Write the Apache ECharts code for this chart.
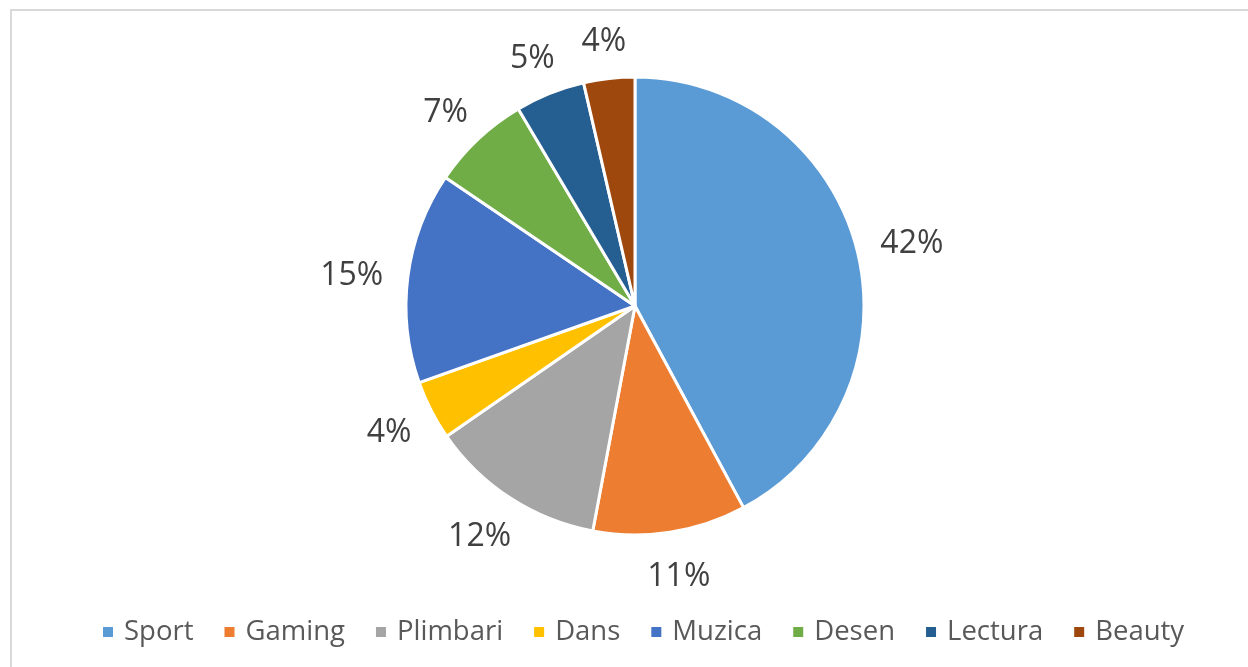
<!DOCTYPE html>
<html>
<head>
<meta charset="utf-8">
<script src="https://cdn.jsdelivr.net/npm/echarts@6/dist/echarts.min.js"></script>
<style>
    html, body { margin: 0; padding: 0; background: #fff; }
    #chart { width: 1248px; height: 667px; }
</style>
</head>
<body>
<div id="chart"></div>
<script>
    var categories = ['Sport', 'Gaming', 'Plimbari', 'Dans', 'Muzica', 'Desen', 'Lectura', 'Beauty'];
    var values = [42.1, 10.8, 12.4, 4.2, 14.9, 7.0, 4.9, 3.6];
    var colors = ['#5B9BD5', '#ED7D31', '#A5A5A5', '#FFC000', '#4472C4', '#70AD47', '#255E91', '#9E480E'];

    var CENTER = [635, 306];
    var RADIUS = 229;
    var LABEL_GAP = 25;

    var chart = echarts.init(document.getElementById('chart'));

    var data = categories.map(function (name, i) {
        return { name: name, value: values[i] };
    });

    // mid angle of each slice, clockwise from 12 o'clock
    var total = values.reduce(function (a, b) { return a + b; }, 0);
    var midAngles = [];
    var acc = 0;
    values.forEach(function (v) {
        midAngles.push((acc + v / 2) / total * Math.PI * 2);
        acc += v;
    });

    // place each label box just outside the rim, like office charts do
    var placeLabel = function (params) {
        var a = midAngles[params.dataIndex];
        var ux = Math.sin(a);
        var uy = -Math.cos(a);
        var w = params.labelRect.width;
        var h = params.labelRect.height;
        var d = RADIUS + LABEL_GAP;
        return {
            x: CENTER[0] + d * ux + w / 2 * ux,
            y: CENTER[1] + d * uy + h / 2 * uy + 4,
            align: 'center',
            verticalAlign: 'middle'
        };
    };

    chart.setOption({
        animation: false,
        color: colors,
        graphic: [
            { type: 'line', shape: { x1: 10, y1: 10, x2: 1248, y2: 10 }, style: { stroke: '#d9d9d9', lineWidth: 2 } },
            { type: 'line', shape: { x1: 11, y1: 10, x2: 11, y2: 667 }, style: { stroke: '#d9d9d9', lineWidth: 2 } }
        ],
        legend: {
            top: 613,
            left: 96,
            icon: 'rect',
            itemWidth: 12,
            itemHeight: 12,
            itemGap: 29,
            textStyle: { fontFamily: 'Open Sans', fontSize: 27.5, color: '#595959', padding: [0, 0, 0, 5] }
        },
        series: [{
            type: 'pie',
            center: CENTER,
            radius: RADIUS,
            startAngle: 90,
            clockwise: true,
            data: data,
            itemStyle: { borderColor: '#fff', borderWidth: 3 },
            label: {
                position: 'outside',
                formatter: function (p) { return Math.round(p.percent) + '%'; },
                fontFamily: 'Open Sans',
                fontSize: 32,
                color: '#404040'
            },
            labelLine: { show: false },
            labelLayout: placeLabel,
            emphasis: { disabled: true }
        }]
    });
</script>
</body>
</html>
